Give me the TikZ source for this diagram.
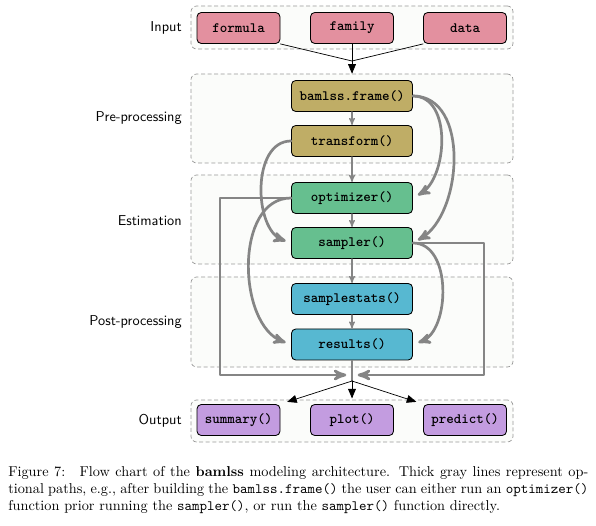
\documentclass[tikz,border=0pt]{standalone}
\usepackage{tikz}
\usetikzlibrary{arrows}

\definecolor{inputcol}{HTML}{E3909F}
\definecolor{precol}{HTML}{BFAD66}
\definecolor{estcol}{HTML}{66BF8F}
\definecolor{postcol}{HTML}{57B8D1}
\definecolor{outcol}{HTML}{C39CE0}
\definecolor{grpfill}{HTML}{FBFCFA}
\definecolor{optgray}{HTML}{858585}

\tikzset{
  group/.style={draw=gray!80, line cap=butt, dash pattern=on 2.8pt off 1.8pt, line width=0.5pt,
    rounded corners=4pt, fill=grpfill, minimum width=225.4pt},
  stagelabel/.style={anchor=east, font=\sffamily, inner sep=0pt},
  fbox/.style={draw=black, line width=0.6pt, rounded corners=3pt, font=\ttfamily\bfseries,
    minimum height=21.7pt, inner sep=0pt},
  inbox/.style={fbox, fill=inputcol, minimum width=58.1pt},
  prebox/.style={fbox, fill=precol, minimum width=84.7pt},
  estbox/.style={fbox, fill=estcol, minimum width=84.7pt},
  postbox/.style={fbox, fill=postcol, minimum width=84.7pt},
  outbox/.style={fbox, fill=outcol, minimum width=58.1pt},
  steparrow/.style={draw=optgray, line width=0.8pt, -stealth'},
  optpath/.style={draw=optgray, line width=1.9pt, -stealth', shorten >=4pt},
  blackarrow/.style={draw=black, line width=0.5pt}
}

\begin{document}
\begin{tikzpicture}[line cap=round,line join=round,>=triangle 45,x=0.7pt,y=-0.7pt]
\useasboundingbox (0,0) rectangle (596,526);

% stages
\node[group, minimum height=30.1pt] (grpIn) at (352,27.5) {};
\node[group, minimum height=62.3pt] (grpPre) at (352,118.5) {};
\node[group, minimum height=62.3pt] (grpEst) at (352,219.5) {};
\node[group, minimum height=63pt] (grpPost) at (352,322) {};
\node[group, minimum height=29.4pt] (grpOut) at (352,421) {};

\node[stagelabel] (lblIn) at (182,27.5) {Input};
\node[stagelabel] (lblPre) at (182,118) {Pre-processing};
\node[stagelabel] (lblEst) at (182,221) {Estimation};
\node[stagelabel] (lblPost) at (182,322) {Post-processing};
\node[stagelabel] (lblOut) at (182,420.5) {Output};

% functions
\node[inbox] (formula) at (238.5,28) {formula};
\node[inbox] (family) at (352,28) {family};
\node[inbox] (data) at (465,28) {data};
\node[prebox] (frame) at (352,96) {bamlss.frame()};
\node[prebox] (transform) at (352,141) {transform()};
\node[estbox] (optimizer) at (352,198) {optimizer()};
\node[estbox] (sampler) at (352,243) {sampler()};
\node[postbox] (samplestats) at (352,299) {samplestats()};
\node[postbox] (results) at (352,344.5) {results()};
\node[outbox] (summary) at (238.5,420) {summary()};
\node[outbox] (plot) at (352,420) {plot()};
\node[outbox] (predict) at (465,420) {predict()};

% input -> pre-processing
\coordinate (inmerge) at (352,61);
\draw[blackarrow] (formula.south east) -- (inmerge);
\draw[blackarrow] (family) -- (inmerge);
\draw[blackarrow] (data.south west) -- (inmerge);
\draw[blackarrow,->] (inmerge) -- (grpPre.north);

% main path
\draw[steparrow] (frame) -- (transform);
\draw[steparrow] (transform) -- (optimizer);
\draw[steparrow] (optimizer) -- (sampler);
\draw[steparrow] (sampler) -- (samplestats);
\draw[steparrow] (samplestats) -- (results);

% optional paths
\draw[optpath] (frame.east) to[out=0,in=30] (optimizer.east);
\draw[optpath] (frame.east) to[out=0,in=30] (sampler.east);
\draw[optpath] (transform.west) to[out=180,in=160] (sampler.west);
\draw[optpath] (optimizer.west) to[out=180,in=160] (results.west);
\draw[optpath] (sampler.east) to[out=0,in=20] (results.east);
\coordinate (estL) at (220,375);
\coordinate (estR) at (484,375);
\coordinate (joint) at (352,375);
\draw[optpath] (optimizer.west) -| (estL) -- (joint);
\draw[optpath] (sampler.east) -| (estR) -- (joint);

% output
\coordinate (outmerge) at (352,381);
\draw[draw=optgray, line width=0.8pt] (results) -- (outmerge);
\draw[blackarrow,->,shorten >=5pt] (outmerge) -- (summary.north east);
\draw[blackarrow,->,shorten >=4pt] (outmerge) -- (plot);
\draw[blackarrow,->,shorten >=5pt] (outmerge) -- (predict.north west);

% caption
\node[anchor=north west, inner sep=0pt, text width=406pt, align=justify] (caption) at (8,466)
  {Figure~7:\quad Flow chart of the \textbf{bamlss} modeling architecture. Thick gray lines represent op-\linebreak tional paths, e.g., after building the \texttt{bamlss.frame()} the user can either run an \texttt{optimizer()}\linebreak function prior running the \texttt{sampler()}, or run the \texttt{sampler()} function directly.};
\end{tikzpicture}
\end{document}
